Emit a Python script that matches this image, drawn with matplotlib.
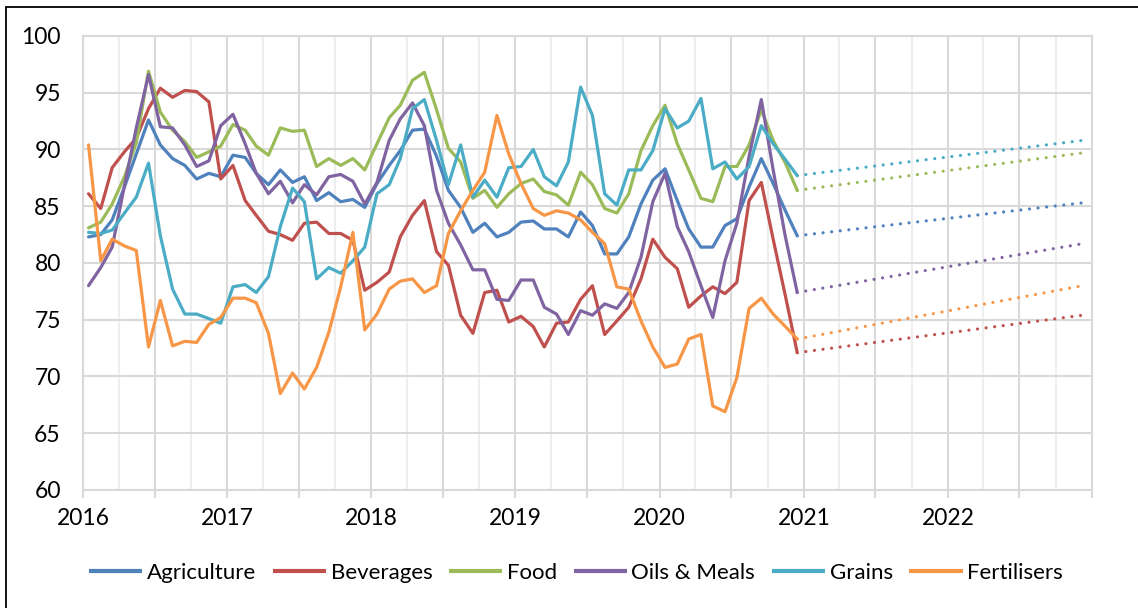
import matplotlib
matplotlib.use("Agg")
import matplotlib.pyplot as plt
import matplotlib.dates as mdates
import matplotlib.ticker as mticker
from matplotlib.patches import Rectangle
import pandas as pd

# ---------------- data ----------------
series_names = ["Agriculture", "Beverages", "Food", "Oils & Meals", "Grains", "Fertilisers"]

agriculture = [82.3, 82.5, 83.8, 86.7, 89.6, 92.6, 90.4, 89.2, 88.6, 87.4, 87.9, 87.6,
               89.5, 89.3, 87.9, 86.9, 88.2, 87.1, 87.6, 85.5, 86.2, 85.4, 85.6, 84.9,
               87.0, 88.6, 89.9, 91.7, 91.8, 89.4, 86.4, 84.9, 82.7, 83.5, 82.3, 82.7,
               83.6, 83.7, 83.0, 83.0, 82.3, 84.5, 83.3, 80.8, 80.8, 82.3, 85.2, 87.3,
               88.3, 85.5, 83.0, 81.4, 81.4, 83.3, 83.9, 86.7, 89.2, 87.0, 84.6, 82.4]
beverages = [86.1, 84.8, 88.4, 89.8, 91.0, 93.6, 95.4, 94.6, 95.2, 95.1, 94.2, 87.4,
             88.6, 85.5, 84.2, 82.8, 82.5, 82.0, 83.5, 83.6, 82.6, 82.6, 82.0, 77.6,
             78.3, 79.2, 82.3, 84.2, 85.5, 81.0, 79.8, 75.4, 73.8, 77.4, 77.6, 74.8,
             75.3, 74.4, 72.6, 74.7, 74.8, 76.8, 78.0, 73.7, 74.9, 76.1, 78.6, 82.1,
             80.5, 79.5, 76.1, 77.1, 77.9, 77.3, 78.3, 85.5, 87.1, 82.1, 77.1, 72.1]
food = [83.1, 83.6, 85.2, 87.6, 90.6, 96.9, 93.3, 91.7, 90.7, 89.3, 89.8, 90.3,
        92.2, 91.7, 90.3, 89.5, 91.9, 91.6, 91.7, 88.5, 89.2, 88.6, 89.2, 88.2,
        90.5, 92.8, 93.9, 96.1, 96.8, 93.5, 90.1, 88.9, 85.7, 86.4, 84.9, 86.1,
        87.0, 87.4, 86.3, 86.0, 85.1, 88.0, 86.9, 84.8, 84.4, 86.1, 89.9, 92.1,
        93.9, 90.5, 88.2, 85.7, 85.4, 88.5, 88.5, 90.4, 93.5, 90.8, 88.8, 86.4]
oils_meals = [78.0, 79.6, 81.4, 86.8, 91.9, 96.6, 92.0, 91.9, 90.4, 88.5, 89.0, 92.1,
              93.1, 90.5, 87.9, 86.1, 87.2, 85.3, 86.9, 86.0, 87.6, 87.8, 87.2, 85.2,
              87.1, 90.8, 92.7, 94.1, 92.1, 86.4, 83.5, 81.6, 79.4, 79.4, 76.8, 76.7,
              78.5, 78.5, 76.1, 75.5, 73.7, 75.8, 75.4, 76.4, 76.0, 77.4, 80.5, 85.4,
              87.9, 83.2, 81.0, 78.0, 75.2, 80.2, 83.5, 89.4, 94.4, 88.2, 82.3, 77.4]
grains = [82.7, 82.6, 82.9, 84.4, 85.8, 88.8, 82.4, 77.7, 75.5, 75.5, 75.1, 74.7,
          77.9, 78.1, 77.4, 78.8, 83.2, 86.6, 85.4, 78.6, 79.6, 79.1, 80.2, 81.4,
          86.1, 86.9, 89.2, 93.6, 94.4, 90.8, 86.9, 90.4, 85.8, 87.3, 85.8, 88.4,
          88.5, 90.0, 87.6, 86.8, 88.9, 95.5, 93.0, 86.1, 85.1, 88.2, 88.2, 89.9,
          93.6, 91.9, 92.5, 94.5, 88.3, 88.9, 87.4, 88.5, 92.1, 90.5, 89.1, 87.7]
fertilisers = [90.4, 80.2, 82.1, 81.5, 81.1, 72.6, 76.7, 72.7, 73.1, 73.0, 74.6, 75.2,
               76.9, 76.9, 76.5, 73.8, 68.5, 70.3, 68.9, 70.8, 73.9, 77.9, 82.7, 74.1,
               75.5, 77.7, 78.4, 78.6, 77.4, 78.0, 82.6, 84.6, 86.4, 88.0, 93.0, 89.6,
               87.0, 84.8, 84.2, 84.6, 84.4, 83.8, 82.7, 81.7, 77.9, 77.7, 74.9, 72.6,
               70.8, 71.1, 73.3, 73.7, 67.4, 66.9, 69.9, 76.0, 76.9, 75.5, 74.4, 73.3]

# projected values at end of 2022 (dotted trend lines start at last observed value)
projection_end = [85.3, 75.4, 89.7, 81.7, 90.8, 78.0]

start_month = "2016-01-01"
n_months = 60
projection_date = "2022-12-08"

colors = ["#4F81BD", "#C0504D", "#9BBB59", "#8064A2", "#4BACC6", "#F79646"]

all_series = [agriculture, beverages, food, oils_meals, grains, fertilisers]

# ---------------- figure ----------------
plt.rcParams["font.family"] = ["Lato", "DejaVu Sans"]

W, H = 1138, 608
fig = plt.figure(figsize=(W / 100, H / 100), dpi=100)
ax = fig.add_axes([83 / W, 1 - 490 / H, (1092 - 83) / W, (490 - 36) / H])

dates = pd.date_range(start_month, periods=n_months, freq="MS") + pd.Timedelta(days=14)
proj_date = pd.Timestamp(projection_date)

lw = 2.3
for name, vals, col, end in zip(series_names, all_series, colors, projection_end):
    ax.plot(dates, vals, color=col, lw=lw, label=name, solid_joinstyle="round",
            solid_capstyle="round", zorder=3)
    ax.plot([dates[-1], proj_date], [vals[-1], end], color=col, lw=lw,
            linestyle=(0, (0.01, 2.7)), dash_capstyle="round", zorder=3)

ax.set_xlim(pd.Timestamp("2016-01-01"), pd.Timestamp("2023-01-01"))
ax.set_ylim(60, 100)

grid_major = "#d9d9d9"
grid_minor = "#eeeeee"

ax.xaxis.set_major_locator(mdates.MonthLocator(bymonth=[1, 7]))
ax.xaxis.set_minor_locator(mdates.MonthLocator(bymonth=[4, 10]))


def year_fmt(x, pos=None):
    d = mdates.num2date(x)
    if d.month == 1 and d.year < 2023:
        return str(d.year)
    return ""


ax.xaxis.set_major_formatter(mticker.FuncFormatter(year_fmt))
ax.yaxis.set_major_locator(mticker.MultipleLocator(5))

ax.grid(which="major", axis="both", color=grid_major, lw=1.5, zorder=0)
ax.grid(which="minor", axis="x", color=grid_minor, lw=1.5, zorder=0)
ax.set_axisbelow(True)

for s in ax.spines.values():
    s.set_color(grid_major)
    s.set_linewidth(1.5)

ax.tick_params(axis="x", which="major", length=6, width=1.5, color=grid_major,
               labelsize=16.5, pad=7, labelcolor="black")
ax.tick_params(axis="x", which="minor", length=0)
ax.tick_params(axis="y", length=0, labelsize=16.5, pad=16, labelcolor="black")

leg = fig.legend(loc="center", bbox_to_anchor=(576 / W, 1 - 573 / H), ncol=6,
                 frameon=False, fontsize=16, handlelength=2.4, handletextpad=0.2,
                 columnspacing=0.75)
for h in leg.legend_handles:
    h.set_linewidth(3.0)
    h.set_solid_capstyle("butt")

# outer chart border (left and top edges visible)
fig.add_artist(Rectangle((6 / W, -0.2), 1.5, 1 - 7 / H + 0.2, transform=fig.transFigure,
                         fill=False, edgecolor="black", lw=1.3, clip_on=False))

fig.savefig("out.png", dpi=100)
